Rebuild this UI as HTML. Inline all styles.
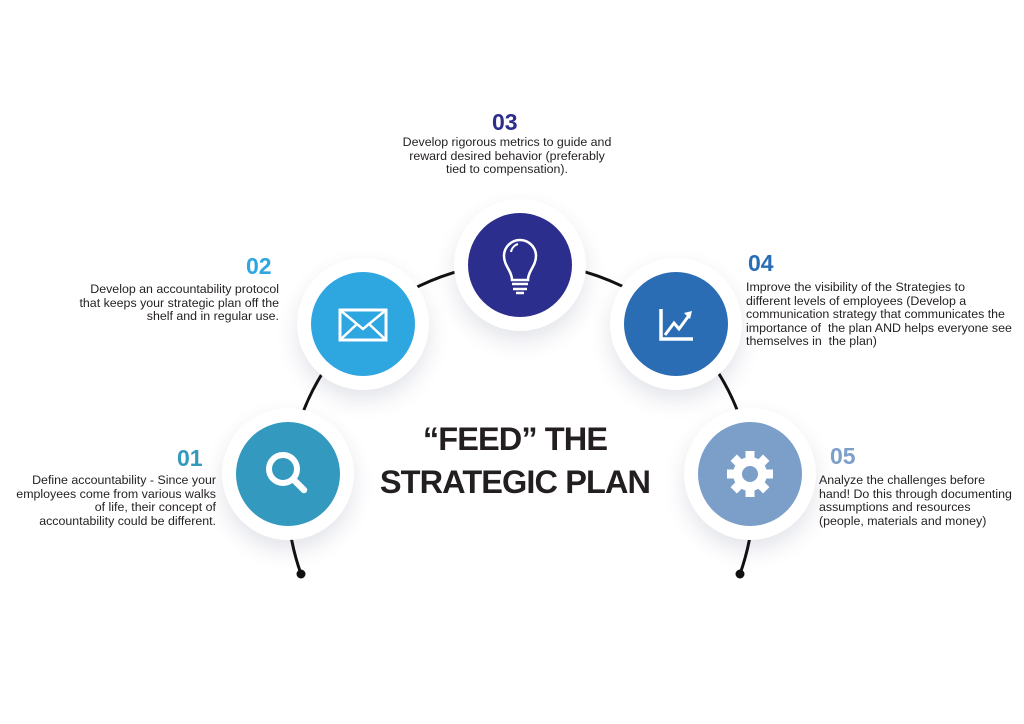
<!DOCTYPE html>
<html><head><meta charset="utf-8">
<style>
body{margin:0;width:1024px;height:724px;background:#fff;position:relative;overflow:hidden;font-family:"Liberation Sans",sans-serif;}
.t{position:absolute;font-size:12.4px;line-height:13.5px;color:#231f20;letter-spacing:0px;white-space:nowrap}
.n{position:absolute;font-size:23px;font-weight:bold;line-height:24px;}
.ring{position:absolute;width:132px;height:132px;border-radius:50%;background:#fff;box-shadow:0 10px 22px rgba(40,50,90,0.13);}
.c{position:absolute;width:104px;height:104px;border-radius:50%;left:14px;top:14px;}
.c svg{position:absolute;left:0;top:0}
#title{position:absolute;left:340px;width:350px;top:418px;text-align:center;font-weight:bold;font-size:32.5px;line-height:43px;letter-spacing:-0.9px;color:#231f20}
</style></head><body>
<svg width="1024" height="724" style="position:absolute;left:0;top:0">
<path d="M301 574 A233 233 0 1 1 740 574" fill="none" stroke="#111" stroke-width="3"/>
<circle cx="301" cy="574" r="4.5" fill="#111"/>
<circle cx="740" cy="574" r="4.5" fill="#111"/>
</svg>

<div class="ring" style="left:222px;top:408px"><div class="c" style="background:#3399bf">
<svg width="104" height="104"><circle cx="47" cy="47" r="14" fill="none" stroke="#fff" stroke-width="6"/><line x1="57" y1="57" x2="68" y2="68" stroke="#fff" stroke-width="6.5" stroke-linecap="round"/></svg></div></div>

<div class="ring" style="left:297px;top:258px"><div class="c" style="background:#2ea6e0">
<svg width="104" height="104"><rect x="29" y="38" width="46" height="30" fill="none" stroke="#fff" stroke-width="3"/><path d="M29 38 L52 57 L75 38 M29 68 L46 52 M75 68 L58 52" fill="none" stroke="#fff" stroke-width="2.5"/></svg></div></div>

<div class="ring" style="left:454px;top:199px"><div class="c" style="background:#2b2e8c">
<svg width="104" height="104"><path d="M44 67 C44 58 36 53 36 43 A16 16 0 0 1 68 43 C68 53 60 58 60 67 Z" fill="none" stroke="#fff" stroke-width="2.5"/><path d="M43 39 A10 10 0 0 1 50 31" fill="none" stroke="#fff" stroke-width="2"/><line x1="44" y1="71" x2="60" y2="71" stroke="#fff" stroke-width="2.5"/><line x1="45" y1="76" x2="59" y2="76" stroke="#fff" stroke-width="2.5"/><line x1="48" y1="80" x2="56" y2="80" stroke="#fff" stroke-width="2.5"/></svg></div></div>

<div class="ring" style="left:610px;top:258px"><div class="c" style="background:#2a6db5">
<svg width="104" height="104"><path d="M37 37 V67 H69" fill="none" stroke="#fff" stroke-width="3.5"/><path d="M41 63 L50 51 L55 57 L66 42" fill="none" stroke="#fff" stroke-width="3"/><path d="M60 41 L68 39 L66 47 Z" fill="#fff"/></svg></div></div>

<div class="ring" style="left:684px;top:408px"><div class="c" style="background:#7c9fca">
<svg width="104" height="104"><g transform="translate(52,52)" fill="#fff">
<rect x="-4.5" y="-23" width="9" height="46"/><rect x="-4.5" y="-23" width="9" height="46" transform="rotate(45)"/><rect x="-4.5" y="-23" width="9" height="46" transform="rotate(90)"/><rect x="-4.5" y="-23" width="9" height="46" transform="rotate(135)"/>
<circle r="17"/><circle r="8" fill="#7c9fca"/></g></svg></div></div>

<div id="title">“FEED” THE<br>STRATEGIC PLAN</div>

<div class="n" style="left:492px;top:110px;color:#2b2e8c">03</div>
<div class="t" style="left:357px;width:300px;top:136px;text-align:center">Develop rigorous metrics to guide and<br>reward desired behavior (preferably<br>tied to compensation).</div>

<div class="n" style="left:246px;top:254px;color:#2ea6e0">02</div>
<div class="t" style="right:745px;top:283px;text-align:right">Develop an accountability protocol<br>that keeps your strategic plan off the<br>shelf and in regular use.</div>

<div class="n" style="left:177px;top:446px;color:#3399bf">01</div>
<div class="t" style="right:808px;top:474px;text-align:right">Define accountability - Since your<br>employees come from various walks<br>of life, their concept of<br>accountability could be different.</div>

<div class="n" style="left:748px;top:251px;color:#2a6db5">04</div>
<div class="t" style="left:746px;top:281px">Improve the visibility of the Strategies to<br>different levels of employees (Develop a<br>communication strategy that communicates the<br>importance of &nbsp;the plan AND helps everyone see<br>themselves in &nbsp;the plan)</div>

<div class="n" style="left:830px;top:444px;color:#7c9fca">05</div>
<div class="t" style="left:819px;top:474px">Analyze the challenges before<br>hand! Do this through documenting<br>assumptions and resources<br>(people, materials and money)</div>
</body></html>
